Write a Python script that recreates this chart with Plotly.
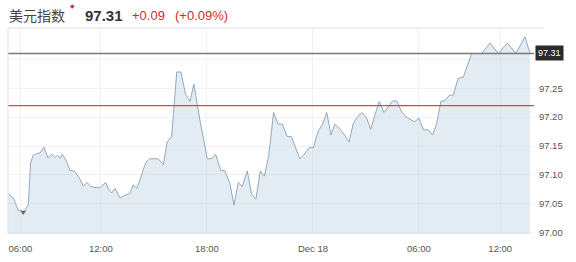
import plotly.graph_objects as go

# time in hours since Dec 17 00:00 (values >24 are Dec 18)
hours = [6.74, 7.04, 7.23, 7.32, 7.51, 7.60, 7.76, 7.89, 8.02, 8.17, 8.36, 8.55, 8.77, 9.02, 9.21,
         9.40, 9.53, 9.68, 9.81, 10.06, 10.25, 10.53, 10.81, 11.00, 11.22, 11.42, 11.76, 11.98,
         12.27, 12.45, 12.61, 12.79, 13.08, 13.36, 13.64, 13.83, 14.02, 14.21, 14.38, 14.55,
         14.77, 15.24, 15.53, 15.75, 16.00, 16.29, 16.53, 16.79, 17.04, 17.26, 17.60, 18.02,
         18.27, 18.49, 18.78, 19.02, 19.30, 19.53, 19.77, 20.00, 20.28, 20.53, 20.77, 21.02,
         21.25, 21.50, 21.77, 22.02, 22.27, 22.53, 22.78, 23.26, 23.51, 23.77, 24.02, 24.30,
         24.55, 24.78, 25.02, 25.24, 25.53, 25.77, 26.04, 26.28, 26.51, 26.76, 27.00, 27.27,
         27.55, 27.75, 28.02, 28.26, 28.51, 28.74, 29.02, 29.29, 29.57, 29.74, 30.00, 30.25,
         30.51, 30.77, 31.00, 31.24, 31.47, 31.73, 31.94, 32.22, 32.51, 32.70, 32.98, 33.55,
         34.02, 34.49, 35.00, 35.49, 36.00, 36.28]

prices = [97.068, 97.060, 97.046, 97.039, 97.038, 97.031, 97.043, 97.048, 97.121, 97.134,
          97.137, 97.138, 97.148, 97.129, 97.136, 97.130, 97.134, 97.129, 97.136, 97.123,
          97.108, 97.106, 97.093, 97.081, 97.087, 97.080, 97.078, 97.079, 97.087, 97.074,
          97.069, 97.077, 97.060, 97.065, 97.068, 97.083, 97.077, 97.091, 97.108, 97.122,
          97.128, 97.128, 97.118, 97.157, 97.166, 97.278, 97.278, 97.239, 97.227, 97.257,
          97.195, 97.128, 97.128, 97.136, 97.108, 97.107, 97.085, 97.048, 97.087, 97.080,
          97.107, 97.067, 97.058, 97.107, 97.098, 97.134, 97.208, 97.188, 97.188, 97.167,
          97.166, 97.128, 97.136, 97.147, 97.147, 97.176, 97.188, 97.208, 97.169, 97.188,
          97.179, 97.170, 97.157, 97.189, 97.200, 97.208, 97.201, 97.179, 97.208, 97.227,
          97.208, 97.218, 97.228, 97.228, 97.209, 97.200, 97.195, 97.192, 97.198, 97.178,
          97.178, 97.169, 97.189, 97.227, 97.229, 97.238, 97.238, 97.267, 97.269, 97.287,
          97.310, 97.310, 97.328, 97.310, 97.328, 97.310, 97.339, 97.310]

prev_close = 97.22
last_price = 97.31
change_text = "+0.09"
change_pct_text = "(+0.09%)"
title_text = "美元指数"

x_tick_vals = [7.44, 12.0, 18.0, 24.0, 30.0, 34.6]
x_tick_text = ["06:00", "12:00", "18:00", "Dec 18", "06:00", "12:00"]
y_tick_vals = [97.00, 97.05, 97.10, 97.15, 97.20, 97.25]
y_tick_text = ["97.00", "97.05", "97.10", "97.15", "97.20", "97.25"]
y_grid_vals = [97.30]

flag_x = [7.6]
flag_y = [97.036]

fig = go.Figure()
fig.add_trace(go.Scatter(
    x=hours, y=prices, mode="lines", fill="tozeroy",
    line=dict(color="#93a9bd", width=1),
    fillcolor="rgba(200,218,232,0.5)", hoverinfo="skip"))
fig.add_trace(go.Scatter(
    x=flag_x, y=flag_y, mode="markers",
    marker=dict(symbol="triangle-down", size=5, color="#666"), hoverinfo="skip"))

for gv in y_grid_vals:
    fig.add_shape(type="line", xref="paper", yref="y", x0=0, x1=1, y0=gv, y1=gv,
                  line=dict(color="#f1f1f1", width=1), layer="below")
fig.add_shape(type="line", xref="paper", yref="y", x0=0, x1=1, y0=prev_close, y1=prev_close,
              line=dict(color="#f23c3c", width=1.2))
fig.add_shape(type="line", xref="paper", yref="y", x0=0, x1=1, y0=last_price, y1=last_price,
              line=dict(color="#7a7a7a", width=1.5))
# frame top / left
fig.add_shape(type="line", xref="paper", yref="paper", x0=0, x1=1.02, y0=1, y1=1,
              line=dict(color="#e3e3e3", width=1))
fig.add_shape(type="line", xref="paper", yref="paper", x0=0, x1=0, y0=0, y1=1,
              line=dict(color="#e3e3e3", width=1))

font_latin = "Liberation Sans, Arial, sans-serif"
fig.add_annotation(xref="paper", yref="paper", x=-0.002, y=1.063, xanchor="left", yanchor="middle",
                   text=title_text, showarrow=False,
                   font=dict(family="Noto Sans CJK SC", size=14, color="#444"))
fig.add_annotation(xref="paper", yref="paper", x=0.1235, y=1.105, xanchor="center", yanchor="middle",
                   text="◆", showarrow=False, font=dict(family=font_latin, size=6, color="#d9302c"))
fig.add_annotation(xref="paper", yref="paper", x=0.1426, y=1.063, xanchor="left", yanchor="middle",
                   text="<b>%.2f</b>" % last_price, showarrow=False,
                   font=dict(family=font_latin, size=15, color="#333"))
fig.add_annotation(xref="paper", yref="paper", x=0.232, y=1.063, xanchor="left", yanchor="middle",
                   text=change_text, showarrow=False,
                   font=dict(family=font_latin, size=13, color="#d42a2a"))
fig.add_annotation(xref="paper", yref="paper", x=0.3137, y=1.063, xanchor="left", yanchor="middle",
                   text=change_pct_text, showarrow=False,
                   font=dict(family=font_latin, size=13, color="#d42a2a"))
fig.add_annotation(xref="paper", yref="y", x=1.002, y=last_price, xanchor="left", yanchor="middle",
                   text="%.2f" % last_price, showarrow=False, bgcolor="#2b2b2b", borderpad=2,
                   font=dict(family=font_latin, size=9, color="#ffffff"))

fig.update_layout(
    width=576, height=262,
    margin=dict(l=8, r=42, t=28, b=28),
    paper_bgcolor="white", plot_bgcolor="white",
    showlegend=False,
    xaxis=dict(range=[6.74, 36.51], tickvals=x_tick_vals, ticktext=x_tick_text,
               showgrid=True, gridcolor="#f1f1f1", zeroline=False, showline=False,
               ticks="outside", ticklen=6, tickcolor="rgba(0,0,0,0)",
               tickfont=dict(family=font_latin, size=9.5, color="#555")),
    yaxis=dict(range=[96.998, 97.354], side="right", tickvals=y_tick_vals, ticktext=y_tick_text,
               showgrid=True, gridcolor="#f1f1f1", zeroline=False, showline=False,
               ticks="outside", ticklen=2, tickcolor="rgba(0,0,0,0)",
               tickfont=dict(family=font_latin, size=9.5, color="#555")),
)

fig.write_html("out.html")
